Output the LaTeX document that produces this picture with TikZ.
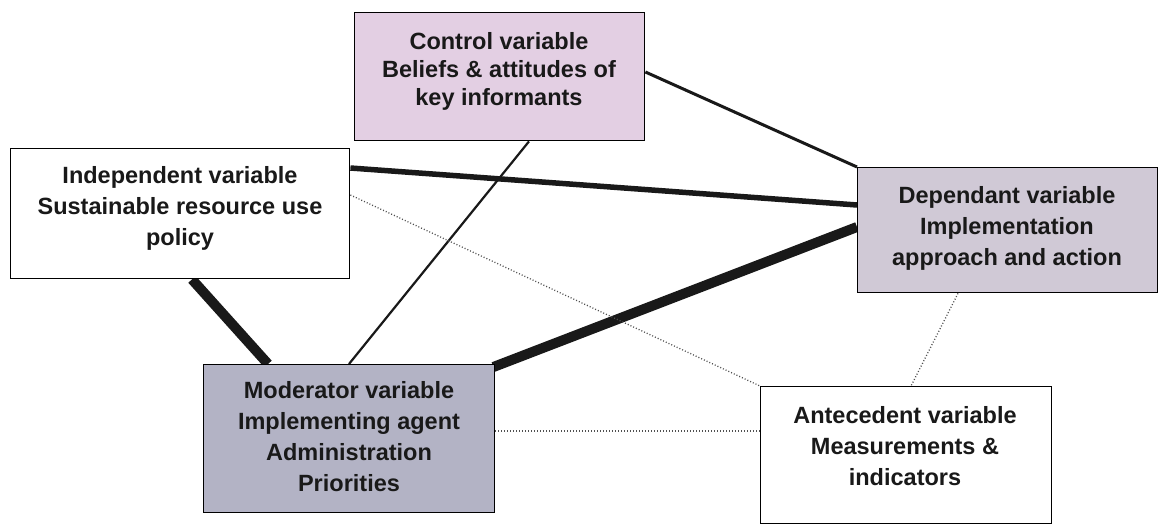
\documentclass[tikz,border=0pt]{standalone}
\usepackage{fontspec}
\setmainfont{Liberation Sans}
\usetikzlibrary{positioning}
\pgfdeclarelayer{bg}
\pgfsetlayers{bg,main}

\definecolor{ctrlfill}{HTML}{E3CFE3}
\definecolor{depfill}{HTML}{D0C9D6}
\definecolor{modfill}{HTML}{B3B3C5}
\definecolor{dotcol}{HTML}{505050}

\tikzset{
  varbox/.style={draw=black, line width=1.4pt, rectangle, inner sep=0pt,
    anchor=north west},
  vartext/.style={font=\fontsize{23.5}{31}\bfseries\selectfont, align=center,
    text=black!90, inner sep=0pt},
  thinlink/.style={line width=2.2pt, draw=black!90},
  midlink/.style={line width=3pt, draw=black!90},
  boldlink/.style={line width=5.5pt, draw=black!90},
  heavylink/.style={line width=10pt, draw=black!90},
  dotlink/.style={line width=1.3pt, draw=dotcol, dash pattern=on 1pt off 2pt}
}

\begin{document}
\begin{tikzpicture}[x=1pt, y=-1pt]
\useasboundingbox (0,0) rectangle (1162,524);

% the five variable boxes
\node[varbox, fill=ctrlfill, minimum width=290pt, minimum height=128pt] (ctrl) at (354,12) {};
\node[varbox, fill=white, minimum width=339pt, minimum height=130pt] (ind) at (10,148) {};
\node[varbox, fill=depfill, minimum width=300pt, minimum height=125pt] (dep) at (857,167) {};
\node[varbox, fill=modfill, minimum width=291pt, minimum height=148pt] (mod) at (203,364) {};
\node[varbox, fill=white, minimum width=291pt, minimum height=137pt] (ant) at (760,386) {};

% box texts
\node[vartext, font=\fontsize{23.5}{28}\bfseries\selectfont] (ctrl-t) at (499,71)
  {Control variable\\Beliefs \& attitudes of\\key informants};
\node[vartext] (ind-t) at (180,208)
  {Independent variable\\Sustainable resource use\\policy};
\node[vartext] (dep-t) at (1007,228)
  {Dependant variable\\Implementation\\approach and action};
\node[vartext] (mod-t) at (349,437)
  {Moderator variable\\Implementing agent\\Administration\\Priorities};
\node[vartext] (ant-t) at (905,446)
  {Antecedent variable\\Measurements \&\\indicators};

% connectors, kept behind the boxes
\begin{pgfonlayer}{bg}
  \draw[midlink]   ([yshift=-60pt]ctrl.north east) -- (dep.north west);
  \draw[boldlink]  ([yshift=-20pt]ind.north east) -- ([yshift=-38pt]dep.north west);
  \draw[heavylink] ([xshift=182pt]ind.south west) -- ([xshift=65pt]mod.north west);
  \draw[thinlink]  ([xshift=175pt]ctrl.south west) -- ([xshift=146pt]mod.north west);
  \draw[heavylink] ([xshift=-2pt,yshift=-3pt]mod.north east) -- ([yshift=-60pt]dep.north west);
  \draw[dotlink]   ([yshift=-47pt]ind.north east) -- (ant.north west);
  \draw[dotlink]   ([xshift=101pt]dep.south west) -- ([xshift=151pt]ant.north west);
  \draw[dotlink]   ([yshift=-67pt]mod.north east) -- ([yshift=-45pt]ant.north west);
\end{pgfonlayer}
\end{tikzpicture}
\end{document}
